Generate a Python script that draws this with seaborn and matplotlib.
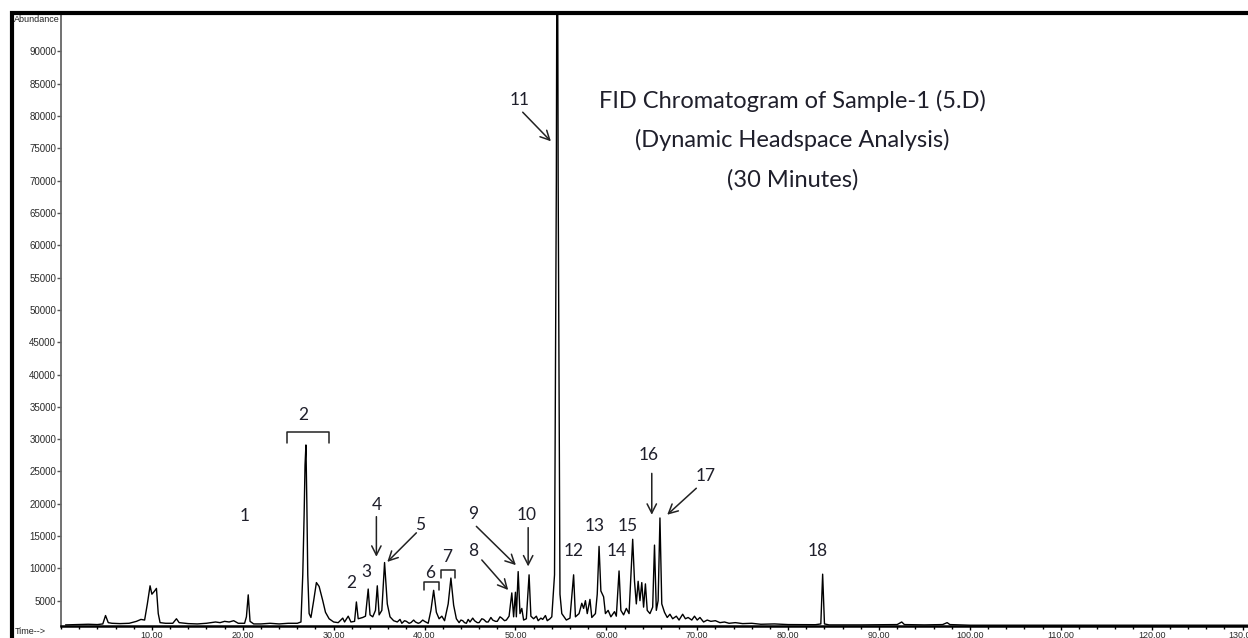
## FID chromatogram of Sample-1 (5.D), dynamic headspace, 30 minutes
import matplotlib
matplotlib.use("Agg")
import matplotlib.pyplot as plt
import seaborn as sns
import pandas as pd
from matplotlib.patches import Rectangle
from matplotlib.ticker import MultipleLocator, FixedLocator

#_Trace (retention time in minutes, abundance) --------------------------------------
rt = [0.5, 2.0, 3.0, 4.0, 4.6, 4.9, 5.2, 5.6, 6.5, 7.5, 8.3, 8.8, 9.2, 9.5, 9.8, 10.0, 10.3, 10.5, 10.7, 10.9,
      11.5, 12.3, 12.7, 13.0, 14.0, 15.0, 16.0, 17.0, 17.5, 18.0, 18.5, 19.0, 19.5, 20.2, 20.4, 20.6, 20.8, 21.2,
      22.0, 23.0, 24.0, 25.0, 26.0, 26.4, 26.6, 26.75, 26.85, 26.95, 27.05, 27.15, 27.3, 27.5, 27.8, 28.1, 28.4,
      28.8, 29.1, 29.5, 30.0, 30.5, 31.0, 31.2, 31.6, 31.9, 32.3, 32.5, 32.7, 33.2, 33.5, 33.8, 34.0, 34.3, 34.6,
      34.8, 35.0, 35.3, 35.6, 35.9, 36.2, 36.6, 37.0, 37.3, 37.5, 37.8, 38.0, 38.3, 38.5, 38.8, 39.0, 39.3, 39.5,
      39.8, 40.0, 40.4, 40.7, 41.0, 41.3, 41.6, 41.9, 42.2, 42.6, 42.9, 43.2, 43.5, 43.8, 44.0, 44.2, 44.4, 44.6,
      44.8, 45.0, 45.3, 45.5, 45.8, 46.0, 46.3, 46.5, 46.8, 47.0, 47.3, 47.5, 47.8, 48.0, 48.3, 48.5, 48.8,
      49.0, 49.3, 49.6, 49.8, 50.0, 50.1, 50.3, 50.5, 50.7, 50.9, 51.2, 51.5, 51.7, 52.0, 52.3, 52.5, 52.8, 53.0,
      53.3, 53.5, 53.8, 54.0, 54.3, 54.5, 54.6, 54.7, 54.9, 55.1, 55.3, 55.6, 56.0, 56.4, 56.6, 57.0, 57.3, 57.5,
      57.7, 57.9, 58.2, 58.4, 58.8, 59.0, 59.2, 59.4, 59.7, 59.9, 60.2, 60.5, 60.9, 61.1, 61.4, 61.6, 61.9, 62.2,
      62.5, 62.9, 63.1, 63.3, 63.5, 63.7, 63.9, 64.1, 64.3, 64.5, 64.8, 65.1, 65.3, 65.5, 65.7, 65.9, 66.1, 66.4,
      66.7, 67.0, 67.3, 67.7, 68.0, 68.4, 68.7, 69.0, 69.4, 69.7, 70.0, 70.3, 70.7, 71.1, 71.5, 72.0, 72.5, 73.0,
      73.5, 74.2, 75.0, 76.0, 77.0, 78.5, 80.0, 83.0, 83.6, 83.8, 84.0, 84.5, 88.0, 92.0, 92.5, 92.8, 95.0, 97.0,
      97.5, 97.8, 100.0, 130.6]
abundance = [1250, 1300, 1350, 1300, 1400, 2700, 1600, 1500, 1450, 1500, 1800, 2100, 2000, 4500, 7300, 6000, 6500, 6900, 3000, 1600,
             1500, 1500, 2200, 1600, 1450, 1400, 1500, 1700, 1600, 1800, 1700, 1900, 1500, 1500, 2500, 5900, 1800, 1400,
             1400, 1500, 1400, 1500, 1500, 1700, 9000, 18300, 26000, 29100, 20000, 9000, 3000, 2400, 5000, 7800, 7200,
             5000, 3200, 2200, 1700, 1600, 2300, 1700, 2600, 1700, 1800, 4800, 2200, 2400, 2600, 6800, 2800, 2500, 3500,
             7300, 2800, 3500, 10900, 4500, 2500, 1900, 1700, 2100, 1500, 1900, 1800, 1500, 1600, 2000, 1700, 1500, 1600,
             2000, 1800, 1500, 3500, 6600, 3200, 2200, 2600, 1900, 4500, 8500, 4300, 2200, 1600, 2000, 1900, 1600, 1500,
             2100, 1700, 2300, 1900, 1600, 1600, 2200, 2100, 1700, 1700, 2400, 2000, 1800, 1800, 2500, 2300, 1900,
             2000, 2600, 6200, 2500, 6300, 2500, 9500, 3000, 3800, 2000, 2200, 9000, 2600, 2200, 2600, 1900, 2300, 2100,
             2700, 1900, 2200, 2500, 9000, 70000, 130000, 70000, 6000, 3000, 2600, 2000, 2300, 9000, 2500, 3000, 4600, 3800,
             5000, 3000, 5200, 2400, 3000, 6000, 13400, 6500, 5600, 3000, 3500, 2500, 3300, 2600, 9600, 3500, 2800, 3800,
             3000, 14500, 8000, 4500, 8000, 5000, 7800, 4000, 7600, 3500, 3000, 4000, 13600, 3500, 5000, 17800, 4500, 3200,
             2400, 2900, 2200, 2600, 2000, 2900, 2200, 2400, 2000, 2600, 2000, 2400, 1700, 2000, 1800, 1900, 1600, 1700,
             1500, 1600, 1450, 1500, 1350, 1400, 1300, 1280, 1400, 9100, 1400, 1250, 1250, 1300, 1700, 1300, 1250, 1300,
             1600, 1300, 1200, 1200]

#_Peak numbers and where they sit -----------------
label_text = ["1", "2", "2", "3", "4", "5", "6", "7", "8", "9", "10", "11", "12", "13", "14", "15", "16", "17", "18"]
label_x = [20.2, 26.65, 31.9, 33.6, 34.7, 39.5, 40.6, 42.5, 45.3, 45.3, 51.2, 50.5, 56.4, 58.7, 61.1, 62.3, 64.6, 70.9, 83.3]
label_y = [18100, 33700, 7700, 9500, 19800, 16700, 9300, 11800, 12700, 18400, 18300, 82500, 12700, 16600, 12700, 16600, 27600, 24300, 12700]

# arrows: tail (x, y) -> head (x, y)
arrow_tail_x = [34.7, 39.1, 46.3, 45.7, 51.4, 50.8, 65.0, 69.9]
arrow_tail_y = [18000, 15500, 11300, 16500, 16300, 80600, 24700, 22400]
arrow_head_x = [34.7, 35.9, 49.2, 50.05, 51.4, 53.9, 65.0, 66.7]
arrow_head_y = [11800, 11000, 6650, 10500, 10300, 76100, 18300, 18300]

# brackets over peak groups 2, 6 and 7
bracket_left = [24.85, 39.9, 41.8]
bracket_right = [29.5, 41.6, 43.3]
bracket_top = [31050, 7900, 9750]
bracket_foot = [29400, 6650, 8500]

title_lines = ["FID Chromatogram of Sample-1 (5.D)", "(Dynamic Headspace Analysis)", "(30 Minutes)"]
title_y = [82400, 76300, 70100]

#_Figure set up -----------------
sns.set_theme(style="white")
plt.rcParams['font.family'] = ['Liberation Sans', 'DejaVu Sans']

fig = plt.figure(figsize=(12.48, 6.38), dpi=100)
ax = fig.add_axes([61 / 1248, 12 / 638, (1248 - 61) / 1248, (626 - 14) / 638])

trace = pd.DataFrame({'rt': rt, 'abundance': abundance})
sns.lineplot(data=trace, x='rt', y='abundance', ax=ax, color='black', lw=1.0,
             estimator=None, sort=False)

ax.set_xlim(0, 130.6)
ax.set_ylim(1080, 95800)
ax.set_xlabel('')
ax.set_ylabel('')

ax.xaxis.set_major_locator(FixedLocator(list(range(10, 140, 10))))
ax.xaxis.set_minor_locator(MultipleLocator(2))
ax.yaxis.set_major_locator(FixedLocator(list(range(5000, 95000, 5000))))
ax.set_xticklabels([f"{v:.2f}" for v in range(10, 140, 10)])
ax.set_yticklabels([str(v) for v in range(5000, 95000, 5000)])
ax.tick_params(axis='x', which='major', direction='out', length=3, width=1, pad=0.5,
               labelsize=6.5, labelcolor='#2a2a2a', bottom=True, color='black')
ax.tick_params(axis='x', which='minor', direction='out', length=2, width=1, bottom=True, color='black')
ax.tick_params(axis='y', which='major', direction='out', length=3, width=1, pad=0.5,
               labelsize=7, labelcolor='#2a2a2a', left=True, color='#555555')

for side in ['top', 'right']:
    ax.spines[side].set_visible(False)
ax.spines['left'].set_color('#666666')
ax.spines['left'].set_linewidth(1.3)
ax.spines['bottom'].set_color('black')
ax.spines['bottom'].set_linewidth(1.8)

#_Annotations -----------------
ink = '#1f1f2b'
for t, x, y in zip(label_text, label_x, label_y):
    ax.text(x, y, t, ha='center', va='center', fontsize=12.5, color=ink, family=['Lato', 'DejaVu Sans'])

for x0, y0, x1, y1 in zip(arrow_tail_x, arrow_tail_y, arrow_head_x, arrow_head_y):
    ax.annotate('', xy=(x1, y1), xytext=(x0, y0),
                arrowprops=dict(arrowstyle='->,head_length=0.55,head_width=0.28',
                                color='#222222', lw=1.1, shrinkA=0, shrinkB=0))

for xl, xr, yt, yf in zip(bracket_left, bracket_right, bracket_top, bracket_foot):
    ax.plot([xl, xl, xr, xr], [yf, yt, yt, yf], color='#222222', lw=1.1)

for line, y in zip(title_lines, title_y):
    ax.text(80.5, y, line, ha='center', va='center', fontsize=17, color=ink, family=['Lato', 'DejaVu Sans'])

fig.text(14 / 1248, (638 - 20) / 638, 'Abundance', ha='left', va='center', fontsize=6.5, color='#222222')
fig.text(15 / 1248, (638 - 632) / 638, 'Time-->', ha='left', va='center', fontsize=6.5, color='#222222')

# outer frame of the printout
fig.patches.append(Rectangle((11.5 / 1248, -0.1), 1.2, (638 - 13) / 638 + 0.1, transform=fig.transFigure,
                             fill=False, edgecolor='black', lw=3, clip_on=False))

fig.savefig('out.png', dpi=100)
plt.close()
